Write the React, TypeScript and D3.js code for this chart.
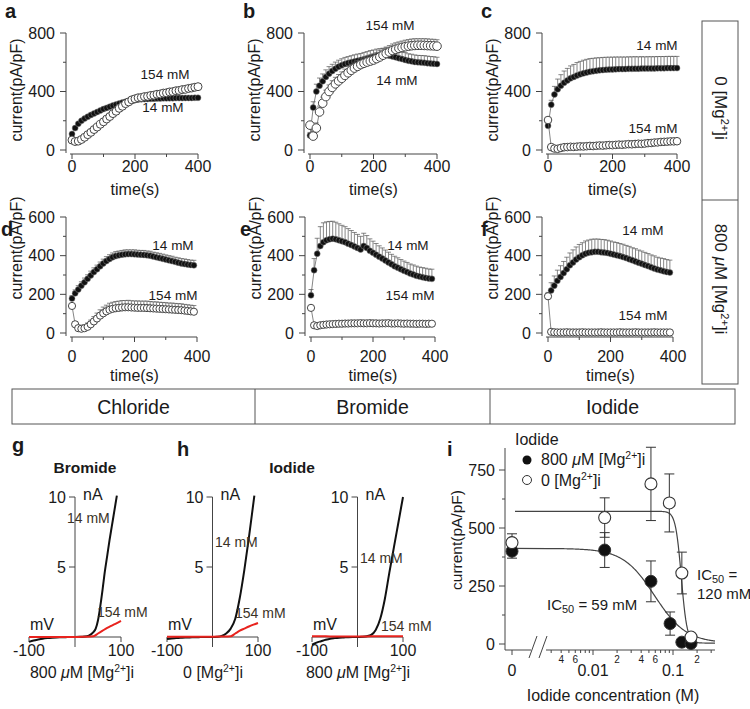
import React from 'react';
import * as d3 from 'd3';

const FONT = '"Liberation Sans", Arial, Helvetica, sans-serif';
const INK = '#1a1a1a';
const AXIS = '#444';

// ---------- time-course panels (a–f) ----------
const TIME_41 = [0,10,20,30,40,50,60,70,80,90,100,110,120,130,140,150,160,170,180,190,200,210,220,230,240,250,260,270,280,290,300,310,320,330,340,350,360,370,380,390,400];
const TIME_40 = [0,10,20,30,40,50,60,70,80,90,100,110,120,130,140,150,160,170,180,190,200,210,220,230,240,250,260,270,280,290,300,310,320,330,340,350,360,370,380,390];
const X_TICKS = [0, 200, 400];
const X_MINOR = [100, 300];
const Y_TICKS_TOP = [0, 400, 800];
const Y_MINOR_TOP = [200, 600];
const Y_TICKS_BOT = [0, 200, 400, 600];
const Y_MINOR_BOT = [100, 300, 500];

// a: chloride, 0 Mg
const A_14 = [110,150,180,200,215,228,240,250,260,270,280,288,296,304,311,318,324,330,335,339,342,345,347,348,349,350,351,352,352,353,353,354,354,355,355,355,356,356,356,357,357];
const A_154 = [68,58,61,72,87,105,121,140,157,176,193,212,229,249,265,285,299,317,329,343,350,357,359,365,367,373,375,381,383,389,391,397,399,405,407,413,415,421,424,429,433];
// b: bromide, 0 Mg
const B_14 = [100,290,400,440,470,500,522,540,556,570,580,588,595,600,605,610,615,620,626,632,638,642,646,648,648,645,640,634,628,622,616,610,606,602,600,598,596,594,592,590,588];
const B_14_ERR = [20,40,50,52,50,48,48,46,45,44,44,45,44,45,46,46,45,47,47,48,46,48,47,48,50,48,49,48,47,48,50,48,49,48,47,48,49,48,47,48,46];
const B_154 = [170,95,150,260,320,365,400,428,452,472,490,510,528,545,560,572,584,593,601,608,615,625,636,648,660,670,680,688,695,701,706,710,713,715,716,716,715,714,713,712,710];
const B_154_ERR = [20,30,35,40,42,44,45,46,45,44,44,43,42,42,41,40,40,40,41,41,42,42,43,43,44,44,45,45,44,44,45,45,46,46,45,45,46,46,45,45,44];
// c: iodide, 0 Mg
const C_14 = [165,310,380,415,440,460,476,490,500,510,518,524,530,535,539,542,545,547,549,550,551,552,553,553,554,555,555,556,556,557,557,558,558,558,559,559,559,560,560,560,560];
const C_14_ERR = [10,30,55,70,75,80,82,85,85,88,88,90,90,90,88,88,86,86,85,85,84,84,83,83,82,82,82,82,81,81,80,80,80,80,80,80,80,80,80,80,80];
const C_154 = [205,20,10,8,14,19,20,22,21,23,25,24,26,28,27,29,31,30,32,34,33,35,37,36,38,40,39,41,43,42,44,47,48,51,52,55,56,57,59,59,60];
// d: chloride, 800 uM Mg
const D_14 = [178,205,225,245,262,280,298,315,330,345,360,372,383,392,398,402,405,407,408,408,407,406,405,404,402,400,396,392,388,384,380,376,372,368,364,360,357,354,352,350];
const D_14_ERR = [15,18,20,20,22,21,22,22,21,22,22,23,22,22,23,22,22,23,22,22,23,22,22,23,22,23,22,23,24,24,24,24,25,24,25,25,26,26,25,26];
const D_154 = [140,45,25,22,25,32,45,60,75,90,102,112,120,125,128,130,132,133,133,132,131,130,130,130,129,128,127,126,125,124,123,122,121,120,119,118,116,114,112,110];
const D_154_ERR = [10,14,15,15,18,20,22,25,28,30,32,32,34,34,35,35,36,35,36,35,35,36,35,35,36,35,34,35,34,34,34,33,34,33,33,33,32,32,32,32];
// e: bromide, 800 uM Mg
const E_14 = [195,325,410,450,470,480,485,488,485,480,475,470,462,455,448,440,432,450,440,425,415,405,395,385,375,365,355,345,338,330,322,315,308,302,296,292,288,285,282,280];
const E_14_ERR = [30,60,80,100,100,95,92,90,88,85,82,80,78,75,72,70,68,66,64,62,60,58,56,55,54,53,52,52,51,50,50,50,49,50,50,49,50,50,49,50];
const E_154 = [130,40,36,40,42,44,45,46,47,48,48,49,49,50,50,50,51,50,50,51,50,50,49,50,50,51,49,49,50,49,48,49,48,48,47,48,48,47,48,48];
// f: iodide, 800 uM Mg
const F_14 = [190,220,245,270,290,310,330,350,365,380,392,402,410,415,418,420,420,418,416,414,410,406,402,398,393,388,382,376,370,364,358,352,346,340,334,328,324,320,316,313];
const F_14_ERR = [20,40,50,55,58,60,62,64,65,65,66,65,66,66,67,66,66,66,67,66,66,65,66,65,66,65,66,65,66,65,66,65,65,64,65,64,64,65,64,64];
const F_154 = [190,6,4,3,3,3,4,3,3,3,3,4,3,3,3,3,3,4,3,3,3,3,3,4,3,3,3,3,4,3,3,3,3,3,4,3,3,3,3,3];

// ---------- I–V panels (g, h) ----------
const IV_V_G_BLACK = [-100,-90,-80,-70,-60,-50,-40,-30,-20,-10,0,10,20,30,40,45,50,55,60,65,70,75,80,85,91];
const IV_I_G_BLACK = [-0.35,-0.25,-0.18,-0.12,-0.08,-0.05,-0.03,-0.02,-0.01,0,0,0.01,0.03,0.1,0.35,0.6,1.2,2.2,3.4,4.7,5.8,6.9,7.9,8.9,10.1];
const IV_V_RED = [-100,-80,-60,-40,-20,0,20,40,50,60,70,80,90,100];
const IV_I_G_RED = [0,0,0,0,0,0,0.02,0.05,0.25,0.45,0.65,0.82,0.98,1.15];
const IV_V_H1_BLACK = [-100,-90,-80,-70,-60,-50,-40,-30,-20,-10,0,10,20,30,40,50,60,70,80,90,92];
const IV_I_H1_BLACK = [-0.15,-0.1,-0.08,-0.06,-0.04,-0.03,-0.02,-0.01,0,0,0,0.02,0.08,0.25,0.6,1.3,2.8,4.8,7.1,9.6,10.1];
const IV_I_H1_RED = [0.02,0.02,0.02,0.02,0.02,0.02,0.03,0.05,0.25,0.45,0.6,0.75,0.88,1.0];
const IV_V_H2_BLACK = [-100,-90,-80,-70,-60,-50,-40,-30,-20,-10,0,10,20,30,40,50,60,70,80,90,100];
const IV_I_H2_BLACK = [-0.55,-0.4,-0.3,-0.2,-0.12,-0.08,-0.05,-0.03,-0.01,0,0,0.02,0.06,0.15,0.5,1.3,2.7,4.6,6.4,8.2,10];
const IV_I_H2_RED = [0.05,0.05,0.04,0.04,0.04,0.04,0.04,0.05,0.05,0.05,0.05,0.05,0.06,0.06];

// ---------- panel i ----------
const I_CONC_MG = [0, 0.014, 0.053, 0.092, 0.129, 0.168];
const I_CUR_MG = [400, 405, 270, 88, 8, 2];
const I_ERR_MG = [30, 75, 88, 50, 10, 5];
const I_CONC_0 = [0, 0.014, 0.053, 0.09, 0.129, 0.168];
const I_CUR_0 = [437, 545, 690, 608, 306, 30];
const I_ERR_0 = [38, 85, 158, 125, 90, 10];
const FIT_TOP = [412, 572];
const FIT_BOTTOM = [4, 4];
const FIT_IC50 = [0.059, 0.127];
const FIT_HILL = [2.2, 12];
const I_Y_TICKS = [0, 250, 500, 750];
const I_Y_MINOR = [125, 375, 625];
const I_X_MINOR = [0.003,0.004,0.005,0.006,0.007,0.008,0.009,0.02,0.03,0.04,0.05,0.06,0.07,0.08,0.09,0.2,0.3];
const I_X_MINOR_LABELS: [number, string][] = [[0.004,'4'],[0.006,'6'],[0.02,'2'],[0.04,'4'],[0.06,'6'],[0.2,'2']];
const I_X_MAJOR: [number, string][] = [[0.01,'0.01'],[0.1,'0.1']];

const Mg = ({ lead, sup = 6 }: { lead: React.ReactNode; sup?: number }) => (
  <>
    {lead}[Mg<tspan dy={-sup} fontSize="0.65em">2+</tspan><tspan dy={sup}>]i</tspan>
  </>
);
const Micro = () => (<>800 <tspan fontStyle="italic">μ</tspan>M </>);

interface PSeries { v: number[]; err?: number[]; filled: boolean }
interface TimeCfg {
  letter: string; lx: number; ly: number;
  x0: number; x1: number; yZero: number; yTop: number; yMax: number;
  yTicks: number[]; yMinor: number[]; t: number[]; series: PSeries[];
  notes: { text: string; x: number; y: number }[];
  ylabY: number; tickBase: number; titleBase: number; openR: number;
}

function TimePanel({ c }: { c: TimeCfg }) {
  const x = d3.scaleLinear().domain([0, 400]).range([c.x0, c.x1]);
  const y = d3.scaleLinear().domain([0, c.yMax]).range([c.yZero, c.yTop]);
  const ax = c.x0 - 6;
  const ay = c.yZero + 4;
  const line = d3.line<number>().x((_, i) => x(c.t[i])).y(v => y(v));
  return (
    <g>
      <text x={c.lx} y={c.ly} fontSize={20} fontWeight="bold">{c.letter}</text>
      <line x1={ax} x2={ax} y1={c.yTop} y2={ay - 1} stroke={AXIS} />
      {c.yTicks.map(v => (
        <g key={'yt' + v}>
          <line x1={ax - 6} x2={ax} y1={y(v)} y2={y(v)} stroke={AXIS} />
          <text x={ax - 11} y={y(v)} dy="0.36em" textAnchor="end" fontSize={16}>{v}</text>
        </g>
      ))}
      {c.yMinor.map(v => (<line key={'ym' + v} x1={ax - 3} x2={ax} y1={y(v)} y2={y(v)} stroke={AXIS} />))}
      <line x1={c.x0 - 2} x2={c.x1} y1={ay} y2={ay} stroke={AXIS} />
      {X_TICKS.map(v => (
        <g key={'xt' + v}>
          <line x1={x(v)} x2={x(v)} y1={ay} y2={ay + 5} stroke={AXIS} />
          <text x={x(v)} y={c.tickBase} textAnchor="middle" fontSize={16}>{v}</text>
        </g>
      ))}
      {X_MINOR.map(v => (<line key={'xm' + v} x1={x(v)} x2={x(v)} y1={ay} y2={ay + 3} stroke={AXIS} />))}
      <text x={(c.x0 + c.x1) / 2} y={c.titleBase} textAnchor="middle" fontSize={16}>time(s)</text>
      <text transform={`translate(${ax - 50},${c.ylabY}) rotate(-90)`} textAnchor="middle" dy="0.35em" fontSize={16}>current(pA/pF)</text>
      {c.series.map((s, si) => (
        <g key={'s' + si}>
          <path d={line(s.v) || ''} fill="none" stroke="#666" strokeWidth={0.8} />
          {s.err && s.v.map((v, i) => (
            <g key={'e' + i} stroke="#555" strokeWidth={0.7}>
              <line x1={x(c.t[i])} x2={x(c.t[i])} y1={y(v)} y2={y(v + s.err![i])} />
              <line x1={x(c.t[i]) - 2.5} x2={x(c.t[i]) + 2.5} y1={y(v + s.err![i])} y2={y(v + s.err![i])} />
            </g>
          ))}
          {s.v.map((v, i) => (
            s.filled
              ? <circle key={'p' + i} cx={x(c.t[i])} cy={y(v)} r={3} fill="#111" stroke="#888" strokeWidth={0.5} />
              : <circle key={'p' + i} cx={x(c.t[i])} cy={y(v)} r={c.openR} fill="#fff" stroke="#444" strokeWidth={1} />
          ))}
        </g>
      ))}
      {c.notes.map((n, i) => (<text key={'n' + i} x={n.x} y={n.y} textAnchor="middle" fontSize={13.5}>{n.text}</text>))}
    </g>
  );
}

interface IVCfg {
  xl: number; xr: number;
  vB: number[]; iB: number[]; vR: number[]; iR: number[];
  n14: [number, number]; n154: [number, number];
  bottom: React.ReactNode; bottomX: number;
}

function IVPanel({ c }: { c: IVCfg }) {
  const x = d3.scaleLinear().domain([-100, 100]).range([c.xl, c.xr]);
  const y = d3.scaleLinear().domain([0, 10]).range([637, 497]);
  const ax = x(0);
  const line = d3.line<[number, number]>().x(d => x(d[0])).y(d => y(d[1])).curve(d3.curveMonotoneX);
  const black = c.vB.map((v, i) => [v, c.iB[i]] as [number, number]);
  const red = c.vR.map((v, i) => [v, c.iR[i]] as [number, number]);
  return (
    <g>
      <line x1={ax} x2={ax} y1={y(10)} y2={647} stroke={AXIS} />
      {[10, 5].map(v => (
        <g key={v}>
          <line x1={ax - 6} x2={ax} y1={y(v)} y2={y(v)} stroke={AXIS} />
          <text x={ax - 9} y={y(v)} dy="0.36em" textAnchor="end" fontSize={16}>{v}</text>
        </g>
      ))}
      <line x1={x(-100)} x2={x(100)} y1={y(0)} y2={y(0)} stroke={AXIS} />
      {[-100, 100].map(v => (
        <g key={v}>
          <line x1={x(v)} x2={x(v)} y1={y(0)} y2={y(0) + 5} stroke={AXIS} />
          <text x={x(v)} y={656} textAnchor="middle" fontSize={16}>{v}</text>
        </g>
      ))}
      <text x={ax + 8} y={500} fontSize={16}>nA</text>
      <text x={x(-100) + 1} y={630} fontSize={16}>mV</text>
      <path d={line(black) || ''} fill="none" stroke="#111" strokeWidth={2} />
      <path d={line(red) || ''} fill="none" stroke="#e8231e" strokeWidth={2} />
      <text x={c.n14[0]} y={c.n14[1]} fontSize={14} fill="#3a3226">14 mM</text>
      <text x={c.n154[0]} y={c.n154[1]} fontSize={14} fill="#3a3226">154 mM</text>
      <text x={c.bottomX} y={678} textAnchor="middle" fontSize={16}>{c.bottom}</text>
    </g>
  );
}

function PanelI() {
  const X_ZERO = 512;
  const xLog = d3.scaleLog().domain([0.01, 0.1]).range([593, 673]);
  const xOf = (cc: number) => (cc === 0 ? X_ZERO : xLog(cc));
  const y = d3.scaleLinear().domain([0, 750]).range([644, 470]);
  const ax = 505;
  const ay = 650;
  const cStart = xLog.invert(548);
  const cEnd = xLog.invert(715);
  const logPts = d3.range(0, 201).map(k => Math.pow(10, Math.log10(cStart) + (Math.log10(cEnd) - Math.log10(cStart)) * k / 200));
  const fitPath = (j: number) => {
    const pts: [number, number][] = [[X_ZERO + (j === 1 ? 3 : 0), y(FIT_TOP[j])]];
    logPts.forEach(cc => {
      const v = FIT_BOTTOM[j] + (FIT_TOP[j] - FIT_BOTTOM[j]) / (1 + Math.pow(cc / FIT_IC50[j], FIT_HILL[j]));
      pts.push([xLog(cc), y(v)]);
    });
    return d3.line()(pts) || '';
  };
  const errBar = (cx: number, v: number, e: number, key: string) => (
    <g key={key} stroke="#333" strokeWidth={1}>
      <line x1={cx} x2={cx} y1={y(v - e)} y2={y(v + e)} />
      <line x1={cx - 5} x2={cx + 5} y1={y(v - e)} y2={y(v - e)} />
      <line x1={cx - 5} x2={cx + 5} y1={y(v + e)} y2={y(v + e)} />
    </g>
  );
  return (
    <g>
      <text x={447} y={456} fontSize={20} fontWeight="bold">i</text>
      <line x1={ax} x2={ax} y1={448} y2={ay} stroke={AXIS} />
      {I_Y_TICKS.map(v => (
        <g key={v}>
          <line x1={ax - 6} x2={ax} y1={y(v)} y2={y(v)} stroke={AXIS} />
          <text x={ax - 10} y={y(v)} dy="0.36em" textAnchor="end" fontSize={16}>{v}</text>
        </g>
      ))}
      {I_Y_MINOR.map(v => (<line key={v} x1={ax - 3} x2={ax} y1={y(v)} y2={y(v)} stroke={AXIS} />))}
      <line x1={ax} x2={531} y1={ay} y2={ay} stroke={AXIS} />
      <line x1={546} x2={715} y1={ay} y2={ay} stroke={AXIS} />
      <line x1={529} x2={537} y1={658} y2={636} stroke={AXIS} />
      <line x1={539} x2={547} y1={658} y2={636} stroke={AXIS} />
      <line x1={X_ZERO} x2={X_ZERO} y1={ay} y2={ay + 5} stroke={AXIS} />
      <text x={X_ZERO} y={676} textAnchor="middle" fontSize={16}>0</text>
      {I_X_MINOR.map(v => (<line key={v} x1={xLog(v)} x2={xLog(v)} y1={ay} y2={ay + 3} stroke={AXIS} />))}
      {I_X_MAJOR.map(([v, s]) => (
        <g key={s}>
          <line x1={xLog(v)} x2={xLog(v)} y1={ay} y2={ay + 5} stroke={AXIS} />
          <text x={xLog(v)} y={676} textAnchor="middle" fontSize={16}>{s}</text>
        </g>
      ))}
      {I_X_MINOR_LABELS.map(([v, s], k) => (
        <text key={'ml' + k} x={xLog(v)} y={663} textAnchor="middle" fontSize={10}>{s}</text>
      ))}
      <text x={613} y={701} textAnchor="middle" fontSize={16}>Iodide concentration (M)</text>
      <text transform={`translate(457,540) rotate(-90)`} textAnchor="middle" dy="0.35em" fontSize={15.5}>current(pA/pF)</text>
      <path d={fitPath(1)} fill="none" stroke="#444" strokeWidth={1.2} />
      <path d={fitPath(0)} fill="none" stroke="#444" strokeWidth={1.2} />
      {I_CONC_MG.map((cc, k) => errBar(xOf(cc), I_CUR_MG[k], I_ERR_MG[k], 'em' + k))}
      {I_CONC_0.map((cc, k) => errBar(xOf(cc), I_CUR_0[k], I_ERR_0[k], 'e0' + k))}
      {I_CONC_MG.map((cc, k) => (<circle key={'m' + k} cx={xOf(cc)} cy={y(I_CUR_MG[k])} r={6} fill="#111" stroke="#333" />))}
      {I_CONC_0.map((cc, k) => (<circle key={'o' + k} cx={xOf(cc)} cy={y(I_CUR_0[k])} r={6} fill="#fff" stroke="#333" strokeWidth={1.1} />))}
      <text x={515} y={445} fontSize={16}>Iodide</text>
      <circle cx={527} cy={460} r={4.5} fill="#111" />
      <text x={541} y={465} fontSize={16}><Micro /><Mg lead="" /></text>
      <circle cx={527} cy={480} r={4.5} fill="#fff" stroke="#333" />
      <text x={541} y={486} fontSize={16}><Mg lead="0 " /></text>
      <text x={547} y={610} fontSize={15}>IC<tspan dy={3} fontSize={11}>50</tspan><tspan dy={-3}> = 59 mM</tspan></text>
      <text x={697} y={580} fontSize={15}>IC<tspan dy={3} fontSize={11}>50</tspan><tspan dy={-3}> =</tspan></text>
      <text x={697} y={599} fontSize={15}>120 mM</text>
    </g>
  );
}

const TIME_PANELS: TimeCfg[] = [
  { letter: 'a', lx: 5, ly: 18, x0: 72, x1: 198, yZero: 150, yTop: 33, yMax: 800, yTicks: Y_TICKS_TOP, yMinor: Y_MINOR_TOP, t: TIME_41,
    series: [{ v: A_14, filled: true }, { v: A_154, filled: false }],
    notes: [{ text: '154 mM', x: 165, y: 79 }, { text: '14 mM', x: 163, y: 112 }], ylabY: 90, tickBase: 172, titleBase: 195, openR: 4 },
  { letter: 'b', lx: 243, ly: 18, x0: 310, x1: 437, yZero: 150, yTop: 33, yMax: 800, yTicks: Y_TICKS_TOP, yMinor: Y_MINOR_TOP, t: TIME_41,
    series: [{ v: B_14, err: B_14_ERR, filled: true }, { v: B_154, err: B_154_ERR, filled: false }],
    notes: [{ text: '154 mM', x: 390, y: 30 }, { text: '14 mM', x: 397, y: 85 }], ylabY: 90, tickBase: 172, titleBase: 195, openR: 4.3 },
  { letter: 'c', lx: 481, ly: 18, x0: 548, x1: 677, yZero: 150, yTop: 33, yMax: 800, yTicks: Y_TICKS_TOP, yMinor: Y_MINOR_TOP, t: TIME_41,
    series: [{ v: C_14, err: C_14_ERR, filled: true }, { v: C_154, filled: false }],
    notes: [{ text: '14 mM', x: 657, y: 50 }, { text: '154 mM', x: 653, y: 133 }], ylabY: 90, tickBase: 172, titleBase: 195, openR: 3.8 },
  { letter: 'd', lx: 1, ly: 236, x0: 72, x1: 197, yZero: 333, yTop: 217, yMax: 600, yTicks: Y_TICKS_BOT, yMinor: Y_MINOR_BOT, t: TIME_40,
    series: [{ v: D_14, err: D_14_ERR, filled: true }, { v: D_154, err: D_154_ERR, filled: false }],
    notes: [{ text: '14 mM', x: 173, y: 250 }, { text: '154 mM', x: 173, y: 300 }], ylabY: 248, tickBase: 362, titleBase: 381, openR: 3.6 },
  { letter: 'e', lx: 240, ly: 236, x0: 311, x1: 435, yZero: 333, yTop: 217, yMax: 600, yTicks: Y_TICKS_BOT, yMinor: Y_MINOR_BOT, t: TIME_40,
    series: [{ v: E_14, err: E_14_ERR, filled: true }, { v: E_154, filled: false }],
    notes: [{ text: '14 mM', x: 408, y: 250 }, { text: '154 mM', x: 410, y: 300 }], ylabY: 248, tickBase: 362, titleBase: 381, openR: 3.6 },
  { letter: 'f', lx: 481, ly: 236, x0: 548, x1: 673, yZero: 333, yTop: 217, yMax: 600, yTicks: Y_TICKS_BOT, yMinor: Y_MINOR_BOT, t: TIME_40,
    series: [{ v: F_14, err: F_14_ERR, filled: true }, { v: F_154, filled: false }],
    notes: [{ text: '14 mM', x: 643, y: 235 }, { text: '154 mM', x: 643, y: 320 }], ylabY: 248, tickBase: 362, titleBase: 381, openR: 3.6 },
];

const IV_PANELS: IVCfg[] = [
  { xl: 29, xr: 121, vB: IV_V_G_BLACK, iB: IV_I_G_BLACK, vR: IV_V_RED, iR: IV_I_G_RED,
    n14: [67, 523], n154: [97, 617], bottom: <><Micro /><Mg lead="" /></>, bottomX: 82 },
  { xl: 167, xr: 258, vB: IV_V_H1_BLACK, iB: IV_I_H1_BLACK, vR: IV_V_RED, iR: IV_I_H1_RED,
    n14: [215, 547], n154: [235, 618], bottom: <Mg lead="0 " />, bottomX: 213 },
  { xl: 312, xr: 403, vB: IV_V_H2_BLACK, iB: IV_I_H2_BLACK, vR: IV_V_RED, iR: IV_I_H2_RED,
    n14: [360, 563], n154: [381, 631], bottom: <><Micro /><Mg lead="" /></>, bottomX: 358 },
];

const ANIONS = ['Chloride', 'Bromide', 'Iodide'];

export default function App() {
  const cellEdges = [12, 255, 490, 735];
  return (
    <svg width={750} height={709} viewBox="0 0 750 709" style={{ position: 'absolute', left: 0, top: 0, background: '#fff' }}
      fontFamily={FONT} fill={INK}>
      <rect x={0} y={0} width={750} height={709} fill="#fff" />
      {TIME_PANELS.map((c, i) => <TimePanel key={i} c={c} />)}

      {/* right-hand condition box */}
      <g stroke="#555" strokeWidth={1} fill="none">
        <rect x={702} y={21} width={36} height={363} />
        <line x1={702} x2={738} y1={200} y2={200} />
      </g>
      <text transform="translate(715,108) rotate(90)" textAnchor="middle" fontSize={17}><Mg lead="0 " /></text>
      <text transform="translate(715,279) rotate(90)" textAnchor="middle" fontSize={17}><Micro /><Mg lead="" /></text>

      {/* bottom anion box */}
      <g stroke="#555" strokeWidth={1} fill="none">
        <rect x={cellEdges[0]} y={389} width={cellEdges[3] - cellEdges[0]} height={35} />
        <line x1={cellEdges[1]} x2={cellEdges[1]} y1={389} y2={424} />
        <line x1={cellEdges[2]} x2={cellEdges[2]} y1={389} y2={424} />
      </g>
      {ANIONS.map((a, i) => (
        <text key={a} x={(cellEdges[i] + cellEdges[i + 1]) / 2} y={414} textAnchor="middle" fontSize={19.5}>{a}</text>
      ))}

      {/* g, h */}
      <text x={12} y={452} fontSize={20} fontWeight="bold">g</text>
      <text x={177} y={456} fontSize={20} fontWeight="bold">h</text>
      <text x={85} y={473} textAnchor="middle" fontSize={15.5} fontWeight="bold">Bromide</text>
      <text x={292} y={473} textAnchor="middle" fontSize={15.5} fontWeight="bold">Iodide</text>
      {IV_PANELS.map((c, i) => <IVPanel key={i} c={c} />)}

      <PanelI />
    </svg>
  );
}
